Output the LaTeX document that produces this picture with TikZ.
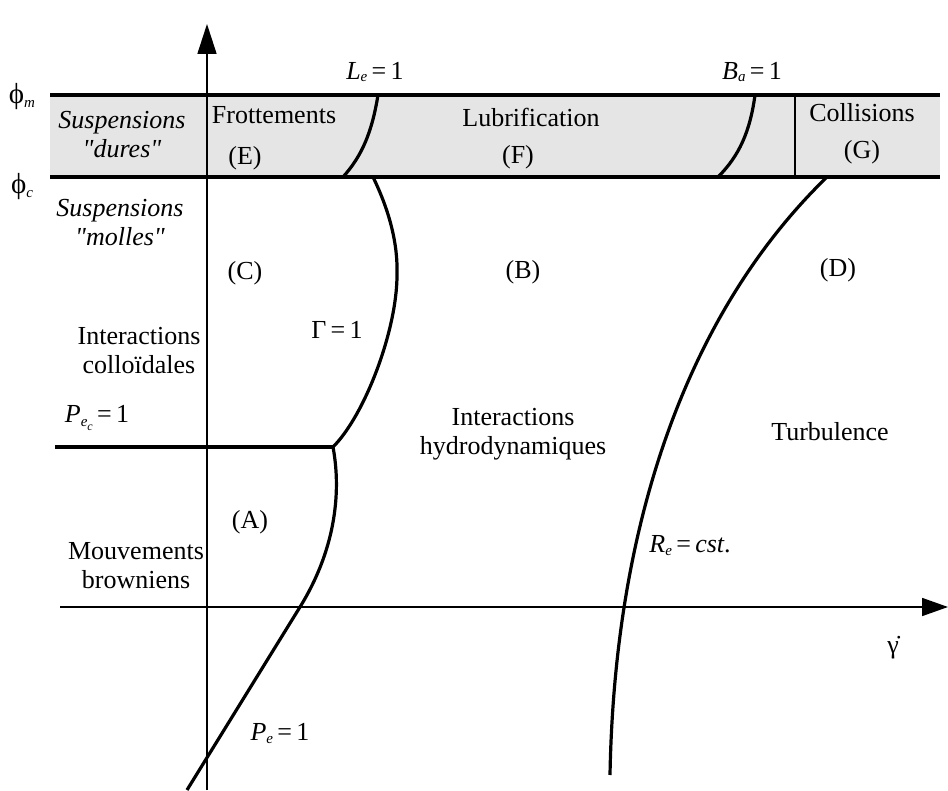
\documentclass[tikz,border=0pt]{standalone}
\usepackage{fontspec}
\setmainfont{Liberation Serif}[Ligatures=TeXOff]
\usetikzlibrary{arrows.meta}
\newcommand{\sbs}[1]{\raisebox{-0.25ex}{\fontsize{15}{15}\selectfont\itshape #1}}
\begin{document}
\begin{tikzpicture}[x=1pt,y=-1pt,
  lbl/.style={font=\fontsize{26}{29}\selectfont, inner sep=0pt, align=center},
  ilbl/.style={font=\fontsize{26}{29}\selectfont\itshape, inner sep=0pt, align=center},
  thickline/.style={line width=3.2pt},
  axisline/.style={line width=1.7pt},
  band/.style={fill=black!10, draw=none}]
\useasboundingbox (0,0) rectangle (948,791);
% band
\fill[band] (50,95) rectangle (940,177);
% axes
\coordinate (yb) at (207,790);
\coordinate (yt) at (207,24);
\coordinate (xl) at (60,607);
\coordinate (xr) at (948,607);
\draw[axisline,-{Triangle[length=30pt,width=19pt]}] (yb) -- (yt);
\draw[axisline,-{Triangle[length=26pt,width=18pt]}] (xl) -- (xr);
% band lines
\coordinate (ml) at (50,95); \coordinate (mr) at (940,95);
\coordinate (cl) at (50,177); \coordinate (cr) at (940,177);
\draw[thickline] (ml) -- (mr);
\draw[thickline] (cl) -- (cr);
\coordinate (gt) at (795,95); \coordinate (gb) at (795,177);
\draw[line width=1.6pt] (gt) -- (gb);
% Le and Ba curves
\coordinate (let) at (378,95); \coordinate (leb) at (343,177);
\draw[thickline] (let) .. controls (372,132) and (362,156) .. (leb);
\coordinate (bat) at (755,95); \coordinate (bab) at (718,177);
\draw[thickline] (bat) .. controls (750,132) and (739,156) .. (bab);
% Gamma curve
\coordinate (gat) at (373,177); \coordinate (gam0) at (397,275); \coordinate (corner) at (333,447);
\draw[thickline] (gat) .. controls (390,212) and (398,245) .. (gam0)
  .. controls (397,330) and (365,415) .. (corner);
% Pec line
\coordinate (pl) at (55,447);
\draw[thickline] (pl) -- (corner);
% Pe curve
\coordinate (pex) at (300,607); \coordinate (peb) at (187,790);
\draw[thickline] (corner) .. controls (342,495) and (334,552) .. (pex) -- (peb);
% Re curve
\coordinate (ret) at (827,177); \coordinate (reb) at (610,775);
\draw[thickline] (ret) .. controls (700,300) and (615,500) .. (reb);
% labels
\node[lbl,font=\fontsize{29}{30}\selectfont] (phim) at (22,97) {ϕ\sbs{m}};
\node[lbl,font=\fontsize{29}{30}\selectfont] (phic) at (22,187) {ϕ\sbs{c}};
\node[ilbl] (sd) at (122,135) {Suspensions\\"dures"};
\node[ilbl] (sm) at (120,223) {Suspensions\\"molles"};
\node[lbl] (frot) at (274,115) {Frottements};
\node[lbl] (E) at (245,158) {(E)};
\node[lbl] (le) at (375,72) {{\itshape L}\sbs{e}\,=\,1};
\node[lbl] (lub) at (531,117) {Lubrification};
\node[lbl] (F) at (518,157) {(F)};
\node[lbl] (ba) at (752,72) {{\itshape B}\sbs{a}\,=\,1};
\node[lbl] (col) at (862,113) {Collisions};
\node[lbl] (G) at (862,152) {(G)};
\node[lbl] (C) at (245,273) {(C)};
\node[lbl] (B) at (523,272) {(B)};
\node[lbl] (D) at (838,270) {(D)};
\node[lbl] (gam) at (337,330) {Γ\,=\,1};
\node[lbl] (ic) at (139,351) {Interactions\\colloïdales};
\node[lbl] (pec) at (97,418) {{\itshape P}\raisebox{-0.3ex}{\fontsize{15}{15}\selectfont\itshape e\raisebox{-0.6ex}{\fontsize{12}{12}\selectfont c}}\,=\,1};
\node[lbl] (ih) at (513,434) {Interactions\\hydrodynamiques};
\node[lbl] (turb) at (830,432) {Turbulence};
\node[lbl] (A) at (250,522) {(A)};
\node[lbl] (mb) at (136,566) {Mouvements\\browniens};
\node[lbl] (re) at (690,546) {{\itshape R}\sbs{e}\,=\,{\itshape cst}.};
\node[lbl] (gd) at (893,648) {γ̇};
\node[lbl] (pe) at (280,733) {{\itshape P}\sbs{e}\,=\,1};
\end{tikzpicture}
\end{document}
